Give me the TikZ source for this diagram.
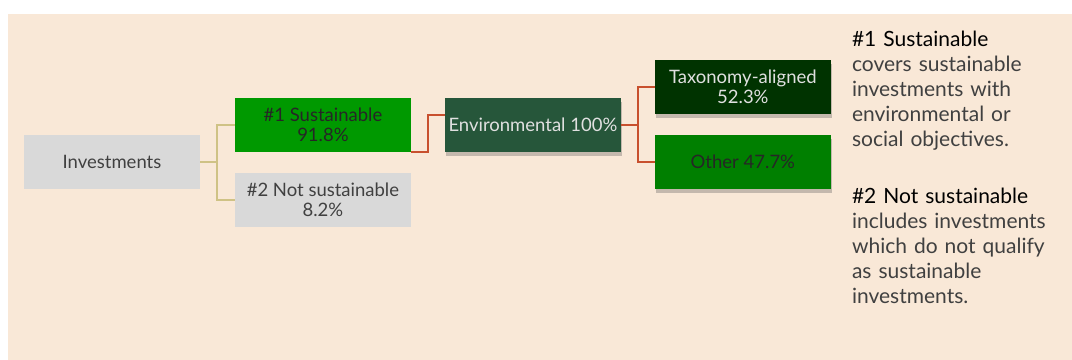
\documentclass[tikz,border=0pt]{standalone}
\usepackage{fontspec}
\setmainfont{Lato}
\usetikzlibrary{shadows}
\definecolor{pagebg}{HTML}{F9E8D7}
\definecolor{boxgrey}{HTML}{D9D9D9}
\definecolor{susgreen}{HTML}{009900}
\definecolor{envgreen}{HTML}{26563A}
\definecolor{taxgreen}{HTML}{003300}
\definecolor{othgreen}{HTML}{007F00}
\definecolor{linkgold}{HTML}{CFC285}
\definecolor{linkred}{HTML}{C8502E}
\definecolor{textgrey}{HTML}{404040}
\tikzset{
  box/.style={minimum width=176pt, minimum height=54pt, inner sep=0pt, align=center,
    font=\fontsize{18.5}{20}\selectfont},
  shadowed/.style={drop shadow={shadow xshift=1pt, shadow yshift=-4pt, opacity=.3, fill=black!70}},
  note/.style={anchor=north west, inner sep=0pt, align=left, text width=220pt,
    font=\fontsize{21}{25}\selectfont, text=textgrey}
}
\begin{document}
\begin{tikzpicture}[x=1pt,y=-1pt]
       \fill[white] (0,0) rectangle (1072,360);
       \fill[pagebg] (8,14) rectangle (1072,360);
       % boxes
       \node[box,fill=boxgrey,text=textgrey] (inv) at (112,162) {Investments};
       \node[box,fill=susgreen,text=black!85] (sus) at (323,125) {\#1 Sustainable\\91.8\%};
       \node[box,fill=boxgrey,text=textgrey] (nots) at (323,200) {\#2 Not sustainable\\8.2\%};
       \node[box,shadowed,fill=envgreen,text=black!12] (env) at (533,125) {Environmental 100\%};
       \node[box,shadowed,fill=taxgreen,text=black!12] (tax) at (743,87) {Taxonomy-aligned\\52.3\%};
       \node[box,shadowed,fill=othgreen,text=black!85] (oth) at (743,162) {Other 47.7\%};
       % links
       \draw[linkgold,line width=1.5pt] (inv.east) -- ++(17,0) |- (sus.west);
       \draw[linkgold,line width=1.5pt] (inv.east) -- ++(17,0) |- (nots.west);
       \draw[linkred,line width=1.5pt] (sus.south east) -- ++(17,0) |- ([yshift=-17pt]env.north west);
       \draw[linkred,line width=1.5pt] (env.east) -- ++(17,0) |- (tax.west);
       \draw[linkred,line width=1.5pt] (env.east) -- ++(17,0) |- (oth.west);
       % notes
       \node[note] (n1) at (852,31) {{\color{black}\#1 Sustainable}\\covers sustainable\\investments with\\environmental or\\social objectives.};
       \node[note] (n2) at (852,188) {{\color{black}\#2 Not sustainable}\\includes investments\\which do not qualify\\as sustainable\\investments.};
\end{tikzpicture}
\end{document}
